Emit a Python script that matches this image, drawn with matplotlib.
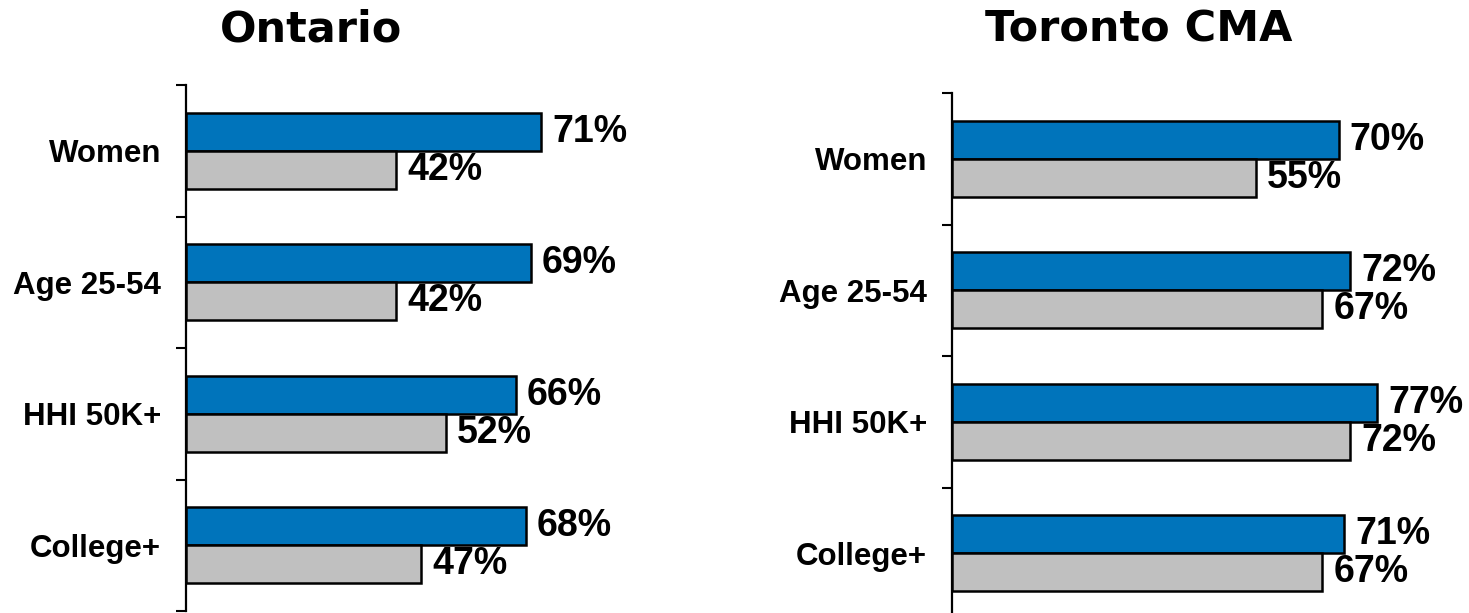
import matplotlib
matplotlib.use("Agg")
import matplotlib.pyplot as plt
import numpy as np

categories = ["Women", "Age 25-54", "HHI 50K+", "College+"]
ontario_blue = [71, 69, 66, 68]
ontario_grey = [42, 42, 52, 47]
toronto_blue = [70, 72, 77, 71]
toronto_grey = [55, 67, 72, 67]
titles = ["Ontario", "Toronto CMA"]

BLUE = "#0074BB"
GREY = "#C0C0C0"

W, H = 1469, 613
fig = plt.figure(figsize=(W / 100, H / 100), dpi=100)

# axes in pixel terms: (left, top, width, height)
specs = [
    (186, 85, 500, 526, 100),
    (952, 93, 442, 526, 80),
]
data = [(ontario_blue, ontario_grey), (toronto_blue, toronto_grey)]
title_pos = [(311, 30), (1139, 30)]

for i, (lx, ty, wx, hy, xmax) in enumerate(specs):
    ax = fig.add_axes([lx / W, 1 - (ty + hy) / H, wx / W, hy / H])
    blue, grey = data[i]
    y = np.arange(len(categories))
    h = 0.29
    ax.barh(y - h / 2, blue, height=h, color=BLUE, edgecolor="black", linewidth=1.8, zorder=3)
    ax.barh(y + h / 2, grey, height=h, color=GREY, edgecolor="black", linewidth=1.8, zorder=3)
    ax.set_xlim(0, xmax)
    ax.set_ylim(len(categories) - 0.5, -0.5)
    for s in ["top", "right", "bottom"]:
        ax.spines[s].set_visible(False)
    ax.spines["left"].set_linewidth(1.6)
    ax.set_xticks([])
    ax.set_yticks(np.arange(len(categories) + 1) - 0.5)
    ax.set_yticklabels([])
    ax.tick_params(axis="y", which="major", length=7, width=1.5)
    ax.set_yticks(y, minor=True)
    ax.set_yticklabels(categories, minor=True, fontsize=22.5, fontweight="bold",
                       family="Liberation Sans")
    ax.tick_params(axis="y", which="minor", length=0, pad=18)
    for yy, v in zip(y, blue):
        ax.annotate(f"{v}%", (v, yy - h / 2), xytext=(8, 0), textcoords="offset points",
                    va="center", ha="left", fontsize=27, fontweight="bold",
                    family="Liberation Sans", annotation_clip=False)
    for yy, v in zip(y, grey):
        ax.annotate(f"{v}%", (v, yy + h / 2), xytext=(8, 0), textcoords="offset points",
                    va="center", ha="left", fontsize=27, fontweight="bold",
                    family="Liberation Sans", annotation_clip=False)
    tx, tyy = title_pos[i]
    fig.text(tx / W, 1 - tyy / H, titles[i], ha="center", va="center", fontsize=31,
             fontweight="bold", family="DejaVu Sans")

fig.savefig("out.png", dpi=100)
